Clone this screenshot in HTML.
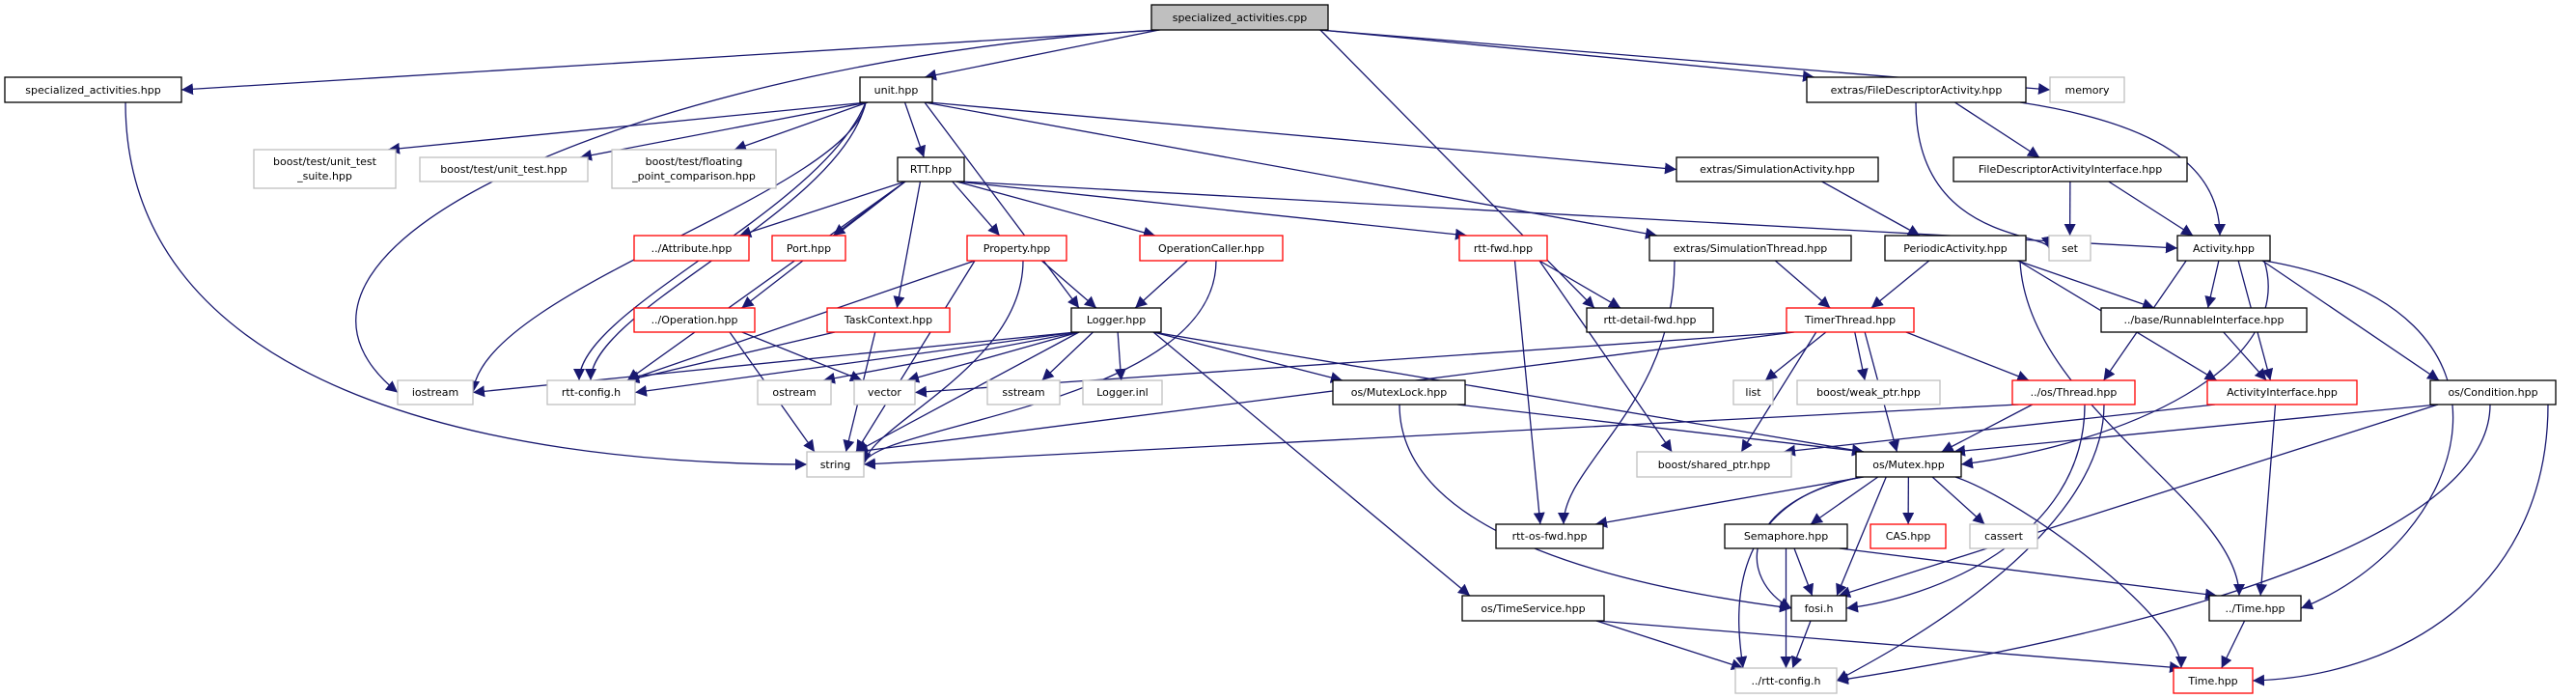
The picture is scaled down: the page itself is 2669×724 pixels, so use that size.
<!DOCTYPE html>
<html><head><meta charset="utf-8"><style>
html,body{margin:0;padding:0;background:#fff;}
svg{display:block;}
text{font-family:"DejaVu Sans","Liberation Sans",sans-serif;font-size:11px;fill:#000;}
</style></head><body>
<svg id="g" width="2669" height="724" viewBox="0 0 2669 724" xmlns="http://www.w3.org/2000/svg">
<defs><marker id="a" viewBox="0 0 10 10" refX="10" refY="5" markerWidth="12" markerHeight="12" markerUnits="userSpaceOnUse" orient="auto"><path d="M0,0 L10,5 L0,10 z" fill="#191970"/></marker></defs>
<g id="edges" fill="none" stroke="#191970" stroke-width="1.3"></g>
<g id="nodes">
<rect x="1193" y="5" width="183" height="26" fill="#bfbfbf" stroke="#000" stroke-width="1.3"/><text x="1284.5" y="22" text-anchor="middle">specialized_activities.cpp</text>
<rect x="5" y="80" width="183" height="26" fill="#fff" stroke="#000" stroke-width="1.3"/><text x="96.5" y="97" text-anchor="middle">specialized_activities.hpp</text>
<rect x="891" y="80" width="75" height="26" fill="#fff" stroke="#000" stroke-width="1.3"/><text x="928.5" y="97" text-anchor="middle">unit.hpp</text>
<rect x="1872" y="80" width="227" height="26" fill="#fff" stroke="#000" stroke-width="1.3"/><text x="1985.5" y="97" text-anchor="middle">extras/FileDescriptorActivity.hpp</text>
<rect x="2124" y="80" width="77" height="26" fill="#fff" stroke="#bfbfbf" stroke-width="1.3"/><text x="2162.5" y="97" text-anchor="middle">memory</text>
<rect x="263" y="155" width="147" height="40" fill="#fff" stroke="#bfbfbf" stroke-width="1.3"/><text x="336.5" y="171" text-anchor="middle">boost/test/unit_test</text><text x="336.5" y="186" text-anchor="middle">_suite.hpp</text>
<rect x="435" y="163" width="174" height="25" fill="#fff" stroke="#bfbfbf" stroke-width="1.3"/><text x="522" y="179" text-anchor="middle">boost/test/unit_test.hpp</text>
<rect x="634" y="155" width="170" height="40" fill="#fff" stroke="#bfbfbf" stroke-width="1.3"/><text x="719" y="171" text-anchor="middle">boost/test/floating</text><text x="719" y="186" text-anchor="middle">_point_comparison.hpp</text>
<rect x="930" y="163" width="69" height="25" fill="#fff" stroke="#000" stroke-width="1.3"/><text x="964.5" y="179" text-anchor="middle">RTT.hpp</text>
<rect x="1737" y="163" width="209" height="25" fill="#fff" stroke="#000" stroke-width="1.3"/><text x="1841.5" y="179" text-anchor="middle">extras/SimulationActivity.hpp</text>
<rect x="2024" y="163" width="242" height="25" fill="#fff" stroke="#000" stroke-width="1.3"/><text x="2145" y="179" text-anchor="middle">FileDescriptorActivityInterface.hpp</text>
<rect x="657" y="244" width="119" height="26" fill="#fff" stroke="#f00" stroke-width="1.3"/><text x="716.5" y="261" text-anchor="middle">../Attribute.hpp</text>
<rect x="800" y="244" width="76" height="26" fill="#fff" stroke="#f00" stroke-width="1.3"/><text x="838" y="261" text-anchor="middle">Port.hpp</text>
<rect x="1002" y="244" width="103" height="26" fill="#fff" stroke="#f00" stroke-width="1.3"/><text x="1053.5" y="261" text-anchor="middle">Property.hpp</text>
<rect x="1181" y="244" width="148" height="26" fill="#fff" stroke="#f00" stroke-width="1.3"/><text x="1255" y="261" text-anchor="middle">OperationCaller.hpp</text>
<rect x="1512" y="244" width="91" height="26" fill="#fff" stroke="#f00" stroke-width="1.3"/><text x="1557.5" y="261" text-anchor="middle">rtt-fwd.hpp</text>
<rect x="1709" y="244" width="209" height="26" fill="#fff" stroke="#000" stroke-width="1.3"/><text x="1813.5" y="261" text-anchor="middle">extras/SimulationThread.hpp</text>
<rect x="1953" y="244" width="146" height="26" fill="#fff" stroke="#000" stroke-width="1.3"/><text x="2026" y="261" text-anchor="middle">PeriodicActivity.hpp</text>
<rect x="2123" y="244" width="43" height="26" fill="#fff" stroke="#bfbfbf" stroke-width="1.3"/><text x="2144.5" y="261" text-anchor="middle">set</text>
<rect x="2256" y="244" width="96" height="26" fill="#fff" stroke="#000" stroke-width="1.3"/><text x="2304" y="261" text-anchor="middle">Activity.hpp</text>
<rect x="657" y="319" width="125" height="25" fill="#fff" stroke="#f00" stroke-width="1.3"/><text x="719.5" y="335" text-anchor="middle">../Operation.hpp</text>
<rect x="857" y="319" width="127" height="25" fill="#fff" stroke="#f00" stroke-width="1.3"/><text x="920.5" y="335" text-anchor="middle">TaskContext.hpp</text>
<rect x="1110" y="319" width="93" height="25" fill="#fff" stroke="#000" stroke-width="1.3"/><text x="1156.5" y="335" text-anchor="middle">Logger.hpp</text>
<rect x="1644" y="319" width="131" height="25" fill="#fff" stroke="#000" stroke-width="1.3"/><text x="1709.5" y="335" text-anchor="middle">rtt-detail-fwd.hpp</text>
<rect x="1851" y="319" width="132" height="25" fill="#fff" stroke="#f00" stroke-width="1.3"/><text x="1917" y="335" text-anchor="middle">TimerThread.hpp</text>
<rect x="2177" y="319" width="213" height="25" fill="#fff" stroke="#000" stroke-width="1.3"/><text x="2283.5" y="335" text-anchor="middle">../base/RunnableInterface.hpp</text>
<rect x="412" y="394" width="78" height="25" fill="#fff" stroke="#bfbfbf" stroke-width="1.3"/><text x="451" y="410" text-anchor="middle">iostream</text>
<rect x="567" y="394" width="91" height="25" fill="#fff" stroke="#bfbfbf" stroke-width="1.3"/><text x="612.5" y="410" text-anchor="middle">rtt-config.h</text>
<rect x="785" y="394" width="76" height="25" fill="#fff" stroke="#bfbfbf" stroke-width="1.3"/><text x="823" y="410" text-anchor="middle">ostream</text>
<rect x="885" y="394" width="63" height="25" fill="#fff" stroke="#bfbfbf" stroke-width="1.3"/><text x="916.5" y="410" text-anchor="middle">vector</text>
<rect x="1023" y="394" width="75" height="25" fill="#fff" stroke="#bfbfbf" stroke-width="1.3"/><text x="1060.5" y="410" text-anchor="middle">sstream</text>
<rect x="1122" y="394" width="82" height="25" fill="#fff" stroke="#bfbfbf" stroke-width="1.3"/><text x="1163" y="410" text-anchor="middle">Logger.inl</text>
<rect x="1381" y="394" width="137" height="25" fill="#fff" stroke="#000" stroke-width="1.3"/><text x="1449.5" y="410" text-anchor="middle">os/MutexLock.hpp</text>
<rect x="1796" y="394" width="41" height="25" fill="#fff" stroke="#bfbfbf" stroke-width="1.3"/><text x="1816.5" y="410" text-anchor="middle">list</text>
<rect x="1862" y="394" width="148" height="25" fill="#fff" stroke="#bfbfbf" stroke-width="1.3"/><text x="1936" y="410" text-anchor="middle">boost/weak_ptr.hpp</text>
<rect x="2085" y="394" width="127" height="25" fill="#fff" stroke="#f00" stroke-width="1.3"/><text x="2148.5" y="410" text-anchor="middle">../os/Thread.hpp</text>
<rect x="2287" y="394" width="155" height="25" fill="#fff" stroke="#f00" stroke-width="1.3"/><text x="2364.5" y="410" text-anchor="middle">ActivityInterface.hpp</text>
<rect x="2518" y="394" width="130" height="25" fill="#fff" stroke="#000" stroke-width="1.3"/><text x="2583" y="410" text-anchor="middle">os/Condition.hpp</text>
<rect x="836" y="468" width="59" height="26" fill="#fff" stroke="#bfbfbf" stroke-width="1.3"/><text x="865.5" y="485" text-anchor="middle">string</text>
<rect x="1696" y="468" width="160" height="26" fill="#fff" stroke="#bfbfbf" stroke-width="1.3"/><text x="1776" y="485" text-anchor="middle">boost/shared_ptr.hpp</text>
<rect x="1923" y="468" width="109" height="26" fill="#fff" stroke="#000" stroke-width="1.3"/><text x="1977.5" y="485" text-anchor="middle">os/Mutex.hpp</text>
<rect x="1550" y="543" width="111" height="25" fill="#fff" stroke="#000" stroke-width="1.3"/><text x="1605.5" y="559" text-anchor="middle">rtt-os-fwd.hpp</text>
<rect x="1787" y="543" width="127" height="25" fill="#fff" stroke="#000" stroke-width="1.3"/><text x="1850.5" y="559" text-anchor="middle">Semaphore.hpp</text>
<rect x="1938" y="543" width="78" height="25" fill="#fff" stroke="#f00" stroke-width="1.3"/><text x="1977" y="559" text-anchor="middle">CAS.hpp</text>
<rect x="2041" y="543" width="70" height="25" fill="#fff" stroke="#bfbfbf" stroke-width="1.3"/><text x="2076" y="559" text-anchor="middle">cassert</text>
<rect x="1515" y="617" width="147" height="26" fill="#fff" stroke="#000" stroke-width="1.3"/><text x="1588.5" y="634" text-anchor="middle">os/TimeService.hpp</text>
<rect x="1856" y="617" width="57" height="26" fill="#fff" stroke="#000" stroke-width="1.3"/><text x="1884.5" y="634" text-anchor="middle">fosi.h</text>
<rect x="2289" y="617" width="95" height="26" fill="#fff" stroke="#000" stroke-width="1.3"/><text x="2336.5" y="634" text-anchor="middle">../Time.hpp</text>
<rect x="1798" y="692" width="105" height="26" fill="#fff" stroke="#bfbfbf" stroke-width="1.3"/><text x="1850.5" y="709" text-anchor="middle">../rtt-config.h</text>
<rect x="2252" y="692" width="82" height="26" fill="#fff" stroke="#f00" stroke-width="1.3"/><text x="2293" y="709" text-anchor="middle">Time.hpp</text>
</g>
</svg>
<script>
var N={
cpp:[1193,1376,5,31],sah:[5,188,80,106],unit:[891,966,80,106],fda:[1872,2099,80,106],mem:[2124,2201,80,106],
uts:[263,410,155,195],ut:[435,609,163,188],fp:[634,804,155,195],rtt:[930,999,163,188],sima:[1737,1946,163,188],fdai:[2024,2266,163,188],
attr:[657,776,244,270],port:[800,876,244,270],prop:[1002,1105,244,270],opc:[1181,1329,244,270],rfwd:[1512,1603,244,270],simt:[1709,1918,244,270],per:[1953,2099,244,270],set:[2123,2166,244,270],act:[2256,2352,244,270],
op:[657,782,319,344],tc:[857,984,319,344],log:[1110,1203,319,344],rdf:[1644,1775,319,344],tt:[1851,1983,319,344],run:[2177,2390,319,344],
ios:[412,490,394,419],rcfg:[567,658,394,419],ost:[785,861,394,419],vec:[885,948,394,419],sst:[1023,1098,394,419],linl:[1122,1204,394,419],ml:[1381,1518,394,419],list:[1796,1837,394,419],wp:[1862,2010,394,419],thr:[2085,2212,394,419],ai:[2287,2442,394,419],cond:[2518,2648,394,419],
str:[836,895,468,494],sp:[1696,1856,468,494],mtx:[1923,2032,468,494],
osf:[1550,1661,543,568],sem:[1787,1914,543,568],cas:[1938,2016,543,568],cass:[2041,2111,543,568],
ts:[1515,1662,617,643],fosi:[1856,1913,617,643],time2:[2289,2384,617,643],
rc2:[1798,1903,692,718],time:[2252,2334,692,718]};
var E=[
['cpp','sah'],['cpp','unit'],['cpp','ios',[[700,60],[220,250]]],['cpp','rdf'],['cpp','fda'],['cpp','mem'],
['sah','str',[[130,400],[500,481]]],
['unit','uts'],['unit','ut'],['unit','fp'],['unit','rtt'],['unit','log'],['unit','sima'],['unit','simt'],['unit','ios',[[880,200],[500,300]]],['unit','rcfg',[[850,220],[600,320]]],['unit','rcfg',[[870,220],[612,320]]],
['rtt','attr'],['rtt','port'],['rtt','prop'],['rtt','opc'],['rtt','rfwd'],['rtt','act','S'],['rtt','op'],['rtt','tc'],['rtt','rcfg'],
['prop','log'],['prop','rcfg'],['prop','str'],['prop','str',[[1060,380],[900,440]]],
['opc','log'],['opc','str',[[1260,420],[900,440]]],
['op','str'],['op','vec'],['tc','rcfg'],['tc','str'],
['log','ios','S'],['log','rcfg','S'],['log','ost'],['log','vec'],['log','sst'],['log','linl'],['log','str'],['log','ml'],['log','ts'],['log','mtx'],
['rfwd','rdf'],['rfwd','osf'],['rfwd','sp'],
['sima','per'],['simt','tt'],['simt','osf',[[1735,420],[1620,480]]],
['fda','set',[[1985,250],[2120,240]]],['fda','fdai'],['fda','act',[[2250,130],[2300,180]]],
['fdai','set'],['fdai','act'],
['per','tt'],['per','run'],['per','ai'],['per','time2',[[2100,420],[2320,520]]],
['act','run'],['act','thr'],['act','ai'],['act','cond'],['act','mtx',[[2380,380],[2200,460]]],['act','time2',[[2640,320],[2560,560]]],
['tt','vec','S'],['tt','str'],['tt','list'],['tt','wp'],['tt','sp'],['tt','mtx'],['tt','thr'],
['run','ai'],
['thr','str'],['thr','mtx'],['thr','fosi',[[2160,560],[2000,620]]],['thr','rc2',[[2180,560],[1950,680]]],
['ai','sp'],['ai','time2'],
['cond','mtx'],['cond','fosi'],['cond','rc2',[[2580,600],[2000,690]]],['cond','time',[[2640,600],[2500,700]]],
['ml','mtx'],['ml','fosi',[[1450,560],[1700,610]]],
['mtx','osf'],['mtx','sem'],['mtx','cas'],['mtx','cass'],['mtx','fosi',[[1800,520],[1800,600]]],['mtx','fosi'],['mtx','rc2',[[1780,520],[1800,650]]],['mtx','time',[[2100,520],[2260,640]]],
['sem','fosi'],['sem','rc2'],['sem','time2'],
['fosi','rc2'],['time2','time'],['ts','rc2'],['ts','time']
];
var g=document.getElementById('edges'),h='';
function cl(v,a,b){return Math.max(a,Math.min(b,v));}
E.forEach(function(e){
 var s=N[e[0]],t=N[e[1]];
 var scx=(s[0]+s[1])/2,tcx=(t[0]+t[1])/2,sx,sy,tx,ty,d;
 var dy=t[2]-s[3],dx=tcx-scx;
 if(e[2] && e[2]!=='S'){
  sx=cl(e[2][0][0],s[0]+6,s[1]-6);sy=s[3];
  var c2=e[2][1][0];
  if(c2<t[0]){tx=t[0];ty=(t[2]+t[3])/2;}
  else if(c2>t[1]){tx=t[1];ty=(t[2]+t[3])/2;}
  else {tx=cl(c2,t[0]+8,t[1]-8);ty=t[2];}
  d='M'+sx+','+sy+' C'+e[2][0][0]+','+e[2][0][1]+' '+e[2][1][0]+','+e[2][1][1]+' '+tx+','+ty;
 } else if(e[2]==='S' || Math.abs(dx)>15*Math.max(dy,1)){
  var r=dx>0;
  sx=cl(scx+(r?1:-1)*(s[1]-s[0])*0.45,s[0],s[1]);sy=s[3];
  tx=r?t[0]:t[1];ty=(t[2]+t[3])/2;
  d='M'+sx+','+sy+' L'+tx+','+ty;
 } else {
  sx=cl(scx+dx*0.25,s[0]+8,s[1]-8);sy=s[3];
  tx=cl(tcx-dx*0.2,t[0]+8,t[1]-8);ty=t[2];
  d='M'+sx+','+sy+' L'+tx+','+ty;
 }
 h+='<path d="'+d+'" marker-end="url(#a)"/>';
});
g.innerHTML=h;
</script>
</body></html>
